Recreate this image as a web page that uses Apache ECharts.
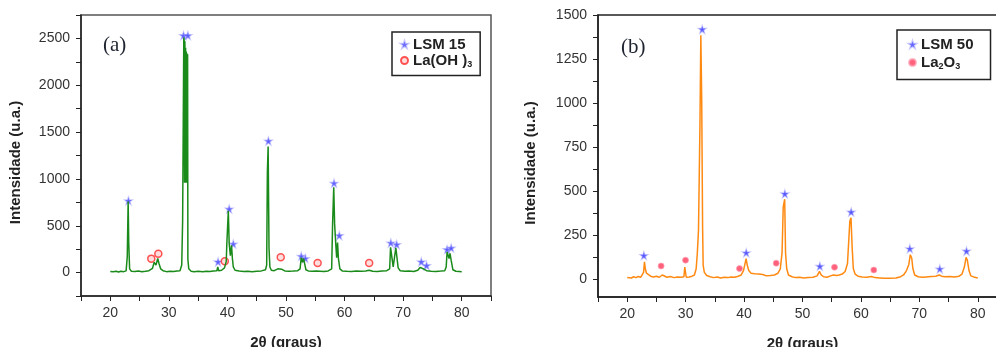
<!DOCTYPE html>
<html>
<head>
<meta charset="utf-8">
<script src="https://cdn.jsdelivr.net/npm/echarts@6/dist/echarts.min.js"></script>
<style>
  html, body { margin: 0; padding: 0; background: #fff; }
  #chart { width: 996px; height: 347px; }
</style>
</head>
<body>
<div id="chart"></div>
<script>
// (a) LSM 15 diffractogram, [2θ, intensity]
const traceA = [
  [20,12],[20.5,8],[21,14],[21.4,6],[21.8,15],[22.3,10],[22.7,18],[22.9,170],[23.05,760],[23.15,320],
  [23.3,40],[23.6,15],[24.2,12],[24.8,18],[25.4,10],[26,14],[26.6,20],[27.2,45],[27.5,110],[27.8,80],
  [28.1,150],[28.3,100],[28.6,40],[29,20],[29.6,10],[30.2,15],[30.8,12],[31.4,18],[31.9,20],[32.2,80],
  [32.35,550],[32.45,560],[32.55,2510],[32.62,2480],[32.68,960],[32.74,2470],[32.8,960],[32.86,2400],
  [32.92,960],[32.98,2360],[33.04,960],[33.1,2340],[33.16,960],[33.2,2330],[33.25,140],[33.4,40],[33.8,15],
  [34.3,10],[35,14],[35.8,8],[36.4,15],[37,12],[37.6,16],[38.2,20],[38.35,60],[38.5,20],[39,25],
  [39.5,50],[39.8,120],[39.9,310],[40.15,660],[40.3,310],[40.5,180],[40.7,290],[40.85,150],[41,60],[41.3,25],
  [42,18],[42.8,12],[43.5,15],[44.2,10],[45,14],[45.8,18],[46.5,30],[46.7,80],[46.82,1070],[46.95,1345],
  [47.1,260],[47.25,60],[47.5,25],[48,20],[48.6,40],[48.9,60],[49.3,35],[49.8,18],[50.5,14],[51.2,16],
  [52,20],[52.4,40],[52.6,160],[52.8,110],[53.0,150],[53.2,90],[53.4,30],[53.8,18],[54.5,14],[55.2,16],
  [55.5,35],[55.8,15],[56.5,12],[57.2,18],[57.8,40],[57.95,510],[58.15,910],[58.3,520],[58.5,300],[58.65,160],
  [58.8,320],[58.95,150],[59.2,40],[59.6,18],[60.4,14],[61.2,12],[62,16],[62.8,14],[63.6,18],[64.2,25],
  [64.8,14],[65.6,12],[66.4,16],[67.2,20],[67.7,40],[67.85,270],[68.15,280],[68.3,60],[68.6,70],[68.75,265],
  [69.0,270],[69.15,50],[69.5,20],[70.3,14],[71,16],[71.8,12],[72.5,25],[72.9,55],[73.2,70],[73.6,35],
  [74,20],[74.8,14],[75.6,12],[76.4,16],[77.1,20],[77.35,60],[77.5,220],[77.7,210],[77.85,150],[78.0,205],
  [78.2,130],[78.35,110],[78.5,30],[79,14],[79.6,12],[80,10]
];
const starsA = [
  [23.1,766],[32.5,2530],[33.25,2530],[38.4,114],[40.3,678],[41.0,305],[47.0,1404],[52.6,174],[53.3,150],
  [58.2,954],[59.1,394],[67.9,316],[68.9,298],[73.1,114],[74.0,74],[77.5,245],[78.2,262]
];
const circlesA = [[27.0,149],[28.2,202],[39.55,120],[49.1,163],[55.4,103],[64.2,103]];

// (b) LSM 50 diffractogram
const traceB = [
  [20,10],[20.3,18],[20.7,8],[21.1,15],[21.5,10],[21.9,16],[22.3,12],[22.6,20],[22.8,40],[22.95,100],
  [23.1,60],[23.3,35],[23.6,25],[24,18],[24.5,14],[25,18],[25.5,12],[26,25],[26.2,14],[26.8,12],
  [27.4,16],[28,10],[28.6,14],[29.2,12],[29.7,15],[29.85,70],[30.0,70],[30.1,12],[30.6,14],[31.1,18],
  [31.5,25],[31.8,60],[32.0,150],[32.2,280],[32.35,290],[32.45,880],[32.55,890],[32.6,1385],[32.7,1380],
  [32.75,1020],[32.85,1010],[32.9,300],[33.0,80],[33.2,40],[33.6,22],[34.2,15],[34.8,10],[35.4,14],
  [36,8],[36.6,12],[37.2,10],[37.8,14],[38.4,12],[39,18],[39.5,25],[39.9,50],[40.2,95],[40.35,118],
  [40.55,80],[40.8,50],[41.2,35],[41.8,32],[42.5,30],[43.2,28],[43.8,20],[44.5,22],[45.2,25],[45.8,35],
  [46.2,60],[46.5,150],[46.7,410],[46.95,455],[47.1,150],[47.3,60],[47.6,25],[48.2,15],[48.8,10],[49.5,12],
  [50.2,8],[51,10],[51.8,12],[52.5,20],[52.9,45],[53.2,25],[53.6,15],[54.2,12],[54.8,20],[55.3,25],
  [55.8,22],[56.3,25],[56.8,30],[57.3,45],[57.7,90],[57.9,210],[58.1,330],[58.3,350],[58.5,180],[58.7,60],
  [59.0,30],[59.5,18],[60.2,14],[61,12],[61.8,16],[62.4,10],[63.2,8],[64,6],[65,6],[66,8],
  [66.8,15],[67.3,25],[67.8,50],[68.2,85],[68.45,140],[68.7,120],[68.9,60],[69.2,25],[69.8,15],[70.5,12],
  [71.2,14],[72,16],[72.8,18],[73.4,25],[73.8,18],[74.4,15],[75.2,16],[76,14],[76.8,18],[77.3,30],
  [77.7,70],[78.0,125],[78.2,110],[78.5,50],[78.8,20],[79.3,14],[80,8]
];
const starsB = [[22.85,135],[32.84,1418],[40.37,151],[46.98,485],[52.97,74],[58.33,382],[68.37,174],[73.5,59],[78.07,160]];
const circlesB = [[25.8,76],[29.98,109],[39.22,61],[45.5,92],[55.48,69],[62.2,53]];

// tick labels
const xLabels = [20, 30, 40, 50, 60, 70, 80];
const xTicks = [15, 20, 25, 30, 35, 40, 45, 50, 55, 60, 65, 70, 75, 80, 85];
const yLabelsA = [0, 500, 1000, 1500, 2000, 2500];
const yTicksA = [-250, 0, 250, 500, 750, 1000, 1250, 1500, 1750, 2000, 2250, 2500, 2750];
const yLabelsB = [0, 250, 500, 750, 1000, 1250, 1500];
const yTicksB = [0, 125, 250, 375, 500, 625, 750, 875, 1000, 1125, 1250, 1375, 1500];

const FONT = 'Arial, "Liberation Sans", sans-serif';
const STAR = 'path://M0,-10 L2.4,-3.1 9.5,-3.1 3.8,1.2 5.9,8.1 0,3.8 -5.9,8.1 -3.8,1.2 -9.5,-3.1 -2.4,-3.1 Z';
const plain = function (v) { return String(v); };

function xAxis(gridIndex) {
  return {
    type: 'value', gridIndex: gridIndex, min: 15, max: 85,
    name: '2θ (graus)', nameLocation: 'middle', nameGap: 39,
    nameTextStyle: { fontFamily: FONT, fontSize: 15, fontWeight: 'bold', color: '#222' },
    axisLine: { onZero: false, lineStyle: { color: '#222', width: 1.5 } },
    axisTick: { inside: false, length: 5, customValues: xTicks, lineStyle: { color: '#222' } },
    axisLabel: { customValues: xLabels, formatter: plain, margin: 10, fontFamily: FONT, fontSize: 14, color: '#333' },
    splitLine: { show: false }
  };
}
function yAxis(gridIndex, min, max, labels, ticks, gap) {
  return {
    type: 'value', gridIndex: gridIndex, min: min, max: max,
    name: 'Intensidade (u.a.)', nameLocation: 'middle', nameGap: gap,
    nameTextStyle: { fontFamily: FONT, fontSize: 15, fontWeight: 'bold', color: '#222', padding: [0, 14, 0, 0] },
    axisLine: { onZero: false, lineStyle: { color: '#222', width: 1.5 } },
    axisTick: { length: 5, customValues: ticks, lineStyle: { color: '#222' } },
    axisLabel: { customValues: labels, formatter: plain, margin: 11, fontFamily: FONT, fontSize: 14, color: '#333' },
    splitLine: { show: false }
  };
}
function legend(left, top, names, padding, gap) {
  return {
    orient: 'vertical', left: left, top: top,
    data: names,
    borderColor: '#222', borderWidth: 1.5, padding: padding,
    itemGap: gap, itemWidth: 7, itemHeight: 7,
    formatter: function (n) {
      if (n === 'La(OH)3') return '{n|La(OH )}{s|3}';
      if (n === 'La2O3') return '{n|La}{s|2}{n|O}{s|3}';
      return '{n|' + n + '}';
    },
    textStyle: {
      color: '#222',
      rich: {
        n: { fontFamily: FONT, fontSize: 15, fontWeight: 'bold', color: '#222', lineHeight: 18 },
        s: { fontFamily: FONT, fontSize: 9, fontWeight: 'bold', color: '#222', lineHeight: 9, verticalAlign: 'bottom' }
      }
    }
  };
}

const chart = echarts.init(document.getElementById('chart'));
chart.setOption({
  animation: false,
  grid: [
    { left: 81, top: 15, width: 410, height: 281, outerBoundsMode: 'none', show: true, borderColor: '#555', borderWidth: 1.5 },
    { left: 598, top: 15, width: 409, height: 282, outerBoundsMode: 'none', show: true, borderColor: '#222', borderWidth: 1.5 }
  ],
  xAxis: [xAxis(0), xAxis(1)],
  yAxis: [
    yAxis(0, -250, 2750, yLabelsA, yTicksA, 58),
    yAxis(1, -100, 1500, yLabelsB, yTicksB, 60)
  ],
  legend: [
    legend(392, 32, [{ name: 'LSM 15', icon: STAR }, { name: 'La(OH)3', icon: 'circle' }], [5, 8, 6, 8], 1),
    legend(897, 30, [{ name: 'LSM 50', icon: STAR }, { name: 'La2O3', icon: 'circle' }], [7, 17, 8, 11], 3)
  ],
  graphic: [
    { type: 'text', left: 103, top: 35, style: { text: '(a)', font: '21px "Liberation Serif", "Times New Roman", serif', fill: '#1f2430' } },
    { type: 'text', left: 621, top: 37, style: { text: '(b)', font: '21px "Liberation Serif", "Times New Roman", serif', fill: '#1f2430' } }
  ],
  series: [
    { type: 'line', xAxisIndex: 0, yAxisIndex: 0, data: traceA, showSymbol: false, silent: true,
      lineStyle: { color: '#1a8a1a', width: 1.5 } },
    { name: 'LSM 15', type: 'scatter', xAxisIndex: 0, yAxisIndex: 0, data: starsA, symbol: STAR, symbolSize: 7,
      itemStyle: { color: '#3030ff', borderColor: 'rgba(140,140,255,0.6)', borderWidth: 1.5 } },
    { name: 'La(OH)3', type: 'scatter', xAxisIndex: 0, yAxisIndex: 0, data: circlesA, symbol: 'circle', symbolSize: 7,
      itemStyle: { color: '#ffd6d6', borderColor: '#ff2a2a', borderWidth: 1.5 } },
    { type: 'line', xAxisIndex: 1, yAxisIndex: 1, data: traceB, showSymbol: false, silent: true,
      lineStyle: { color: '#ff8a12', width: 1.5 } },
    { name: 'LSM 50', type: 'scatter', xAxisIndex: 1, yAxisIndex: 1, data: starsB, symbol: STAR, symbolSize: 7,
      itemStyle: { color: '#2020ff', borderColor: 'rgba(140,140,255,0.6)', borderWidth: 1.5 } },
    { name: 'La2O3', type: 'scatter', xAxisIndex: 1, yAxisIndex: 1, data: circlesB, symbol: 'circle', symbolSize: 6,
      itemStyle: { color: '#ff3a5a', borderColor: 'rgba(255,160,180,0.9)', borderWidth: 1 } }
  ]
});
</script>
</body>
</html>
